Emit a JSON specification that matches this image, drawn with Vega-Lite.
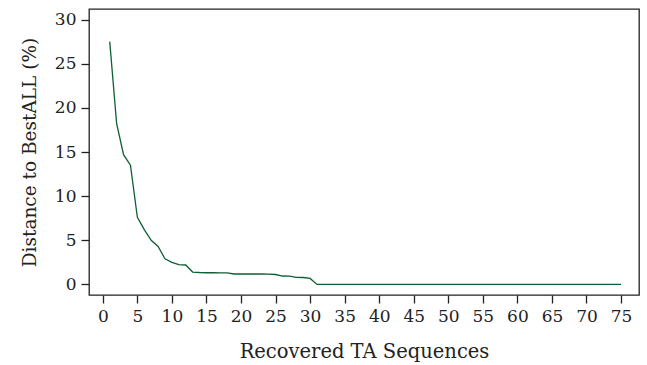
{
  "$schema": "https://vega.github.io/schema/vega-lite/v6.json",
  "width": 550,
  "height": 286,
  "autosize": "none",
  "padding": {"left": 89, "top": 9, "right": 8, "bottom": 70},
  "background": "white",
  "config": {
    "view": {"stroke": "#222222", "strokeWidth": 1.3},
    "axis": {
      "labelFont": "DejaVu Serif",
      "titleFont": "DejaVu Serif",
      "labelFontSize": 17,
      "titleFontSize": 18,
      "labelColor": "#222222",
      "titleColor": "#222222",
      "titleFontWeight": "normal",
      "domain": false,
      "grid": false,
      "tickColor": "#222222",
      "tickWidth": 1.3,
      "tickSize": 8,
      "labelPadding": 5
    }
  },
  "data": {
    "values": [
      {"x": 1, "y": 27.5}, {"x": 2, "y": 18.2}, {"x": 3, "y": 14.7}, {"x": 4, "y": 13.5},
      {"x": 5, "y": 7.6}, {"x": 6, "y": 6.2}, {"x": 7, "y": 5.0}, {"x": 8, "y": 4.3},
      {"x": 9, "y": 2.9}, {"x": 10, "y": 2.5}, {"x": 11, "y": 2.25}, {"x": 12, "y": 2.2},
      {"x": 13, "y": 1.4}, {"x": 14, "y": 1.35}, {"x": 15, "y": 1.32}, {"x": 16, "y": 1.32},
      {"x": 17, "y": 1.3}, {"x": 18, "y": 1.3}, {"x": 19, "y": 1.18}, {"x": 20, "y": 1.18},
      {"x": 21, "y": 1.18}, {"x": 22, "y": 1.18}, {"x": 23, "y": 1.18}, {"x": 24, "y": 1.16},
      {"x": 25, "y": 1.12}, {"x": 26, "y": 0.95}, {"x": 27, "y": 0.93}, {"x": 28, "y": 0.8},
      {"x": 29, "y": 0.78}, {"x": 30, "y": 0.68}, {"x": 31, "y": 0},
      {"x": 32, "y": 0}, {"x": 33, "y": 0}, {"x": 34, "y": 0}, {"x": 35, "y": 0},
      {"x": 36, "y": 0}, {"x": 37, "y": 0}, {"x": 38, "y": 0}, {"x": 39, "y": 0},
      {"x": 40, "y": 0}, {"x": 41, "y": 0}, {"x": 42, "y": 0}, {"x": 43, "y": 0},
      {"x": 44, "y": 0}, {"x": 45, "y": 0}, {"x": 46, "y": 0}, {"x": 47, "y": 0},
      {"x": 48, "y": 0}, {"x": 49, "y": 0}, {"x": 50, "y": 0}, {"x": 51, "y": 0},
      {"x": 52, "y": 0}, {"x": 53, "y": 0}, {"x": 54, "y": 0}, {"x": 55, "y": 0},
      {"x": 56, "y": 0}, {"x": 57, "y": 0}, {"x": 58, "y": 0}, {"x": 59, "y": 0},
      {"x": 60, "y": 0}, {"x": 61, "y": 0}, {"x": 62, "y": 0}, {"x": 63, "y": 0},
      {"x": 64, "y": 0}, {"x": 65, "y": 0}, {"x": 66, "y": 0}, {"x": 67, "y": 0},
      {"x": 68, "y": 0}, {"x": 69, "y": 0}, {"x": 70, "y": 0}, {"x": 71, "y": 0},
      {"x": 72, "y": 0}, {"x": 73, "y": 0}, {"x": 74, "y": 0}, {"x": 75, "y": 0}
    ]
  },
  "mark": {"type": "line", "color": "#0f5f35", "strokeWidth": 1.3, "clip": true},
  "encoding": {
    "x": {
      "field": "x", "type": "quantitative",
      "scale": {"domain": [-2, 77.6], "nice": false, "zero": false},
      "axis": {"values": [0,5,10,15,20,25,30,35,40,45,50,55,60,65,70,75], "title": "Recovered TA Sequences", "titlePadding": 18, "titleFontSize": 19.5}
    },
    "y": {
      "field": "y", "type": "quantitative",
      "scale": {"domain": [-1.2, 31.2], "nice": false, "zero": false},
      "axis": {"values": [0,5,10,15,20,25,30], "title": "Distance to BestALL (%)", "titlePadding": 15, "titleFontSize": 18.5}
    }
  }
}
